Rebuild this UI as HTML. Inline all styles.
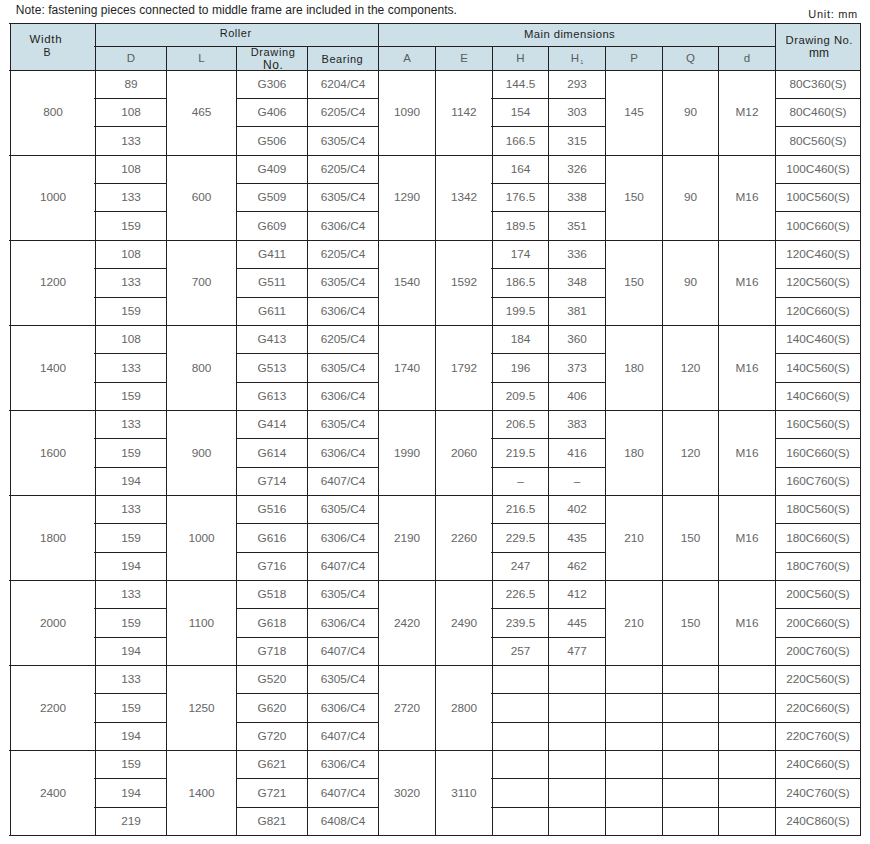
<!DOCTYPE html>
<html><head><meta charset="utf-8"><style>
html,body{margin:0;padding:0;background:#fff;}
body{width:870px;height:844px;position:relative;overflow:hidden;font-family:"Liberation Sans",sans-serif;}
i{position:absolute;background:#231f20;display:block;}
b{position:absolute;display:block;text-align:center;font-weight:normal;font-size:11.8px;line-height:1;color:#666666;white-space:nowrap;}
.h{position:absolute;display:flex;align-items:center;justify-content:center;text-align:center;font-size:11.5px;line-height:13.3px;color:#1e1e1e;white-space:nowrap;}
.s{position:absolute;display:flex;align-items:center;justify-content:center;font-size:11.5px;line-height:1;color:#5c5c5c;white-space:nowrap;}
.s sub{font-size:5.5px;vertical-align:baseline;position:relative;top:3.5px;margin-left:1.2px;line-height:0}
.lb{position:absolute;line-height:1;white-space:nowrap;}
.note{position:absolute;left:15.85px;top:4.3px;font-size:12px;line-height:1;letter-spacing:0.053px;color:#1e1e1e;white-space:nowrap;}
.unit{position:absolute;left:808.3px;top:9.2px;font-size:11px;line-height:1;letter-spacing:0.7px;color:#1e1e1e;white-space:nowrap;}
</style></head><body>
<div class="note">Note: fastening pieces connected to middle frame are included in the components.</div>
<div class="unit">Unit: mm</div>
<div style="position:absolute;left:10px;top:23px;width:850px;height:47px;background:#cde0e7"></div>
<i style="left:9px;top:23px;width:852px;height:1px"></i>
<i style="left:94px;top:46px;width:681px;height:1px"></i>
<i style="left:9px;top:70px;width:852px;height:1px"></i>
<i style="left:94px;top:98px;width:73px;height:1px"></i>
<i style="left:236px;top:98px;width:143px;height:1px"></i>
<i style="left:491px;top:98px;width:115px;height:1px"></i>
<i style="left:775px;top:98px;width:86px;height:1px"></i>
<i style="left:94px;top:126px;width:73px;height:1px"></i>
<i style="left:236px;top:126px;width:143px;height:1px"></i>
<i style="left:491px;top:126px;width:115px;height:1px"></i>
<i style="left:775px;top:126px;width:86px;height:1px"></i>
<i style="left:9px;top:155px;width:852px;height:1px"></i>
<i style="left:94px;top:183px;width:73px;height:1px"></i>
<i style="left:236px;top:183px;width:143px;height:1px"></i>
<i style="left:491px;top:183px;width:115px;height:1px"></i>
<i style="left:775px;top:183px;width:86px;height:1px"></i>
<i style="left:94px;top:211px;width:73px;height:1px"></i>
<i style="left:236px;top:211px;width:143px;height:1px"></i>
<i style="left:491px;top:211px;width:115px;height:1px"></i>
<i style="left:775px;top:211px;width:86px;height:1px"></i>
<i style="left:9px;top:240px;width:852px;height:1px"></i>
<i style="left:94px;top:268px;width:73px;height:1px"></i>
<i style="left:236px;top:268px;width:143px;height:1px"></i>
<i style="left:491px;top:268px;width:115px;height:1px"></i>
<i style="left:775px;top:268px;width:86px;height:1px"></i>
<i style="left:94px;top:297px;width:73px;height:1px"></i>
<i style="left:236px;top:297px;width:143px;height:1px"></i>
<i style="left:491px;top:297px;width:115px;height:1px"></i>
<i style="left:775px;top:297px;width:86px;height:1px"></i>
<i style="left:9px;top:325px;width:852px;height:1px"></i>
<i style="left:94px;top:353px;width:73px;height:1px"></i>
<i style="left:236px;top:353px;width:143px;height:1px"></i>
<i style="left:491px;top:353px;width:115px;height:1px"></i>
<i style="left:775px;top:353px;width:86px;height:1px"></i>
<i style="left:94px;top:382px;width:73px;height:1px"></i>
<i style="left:236px;top:382px;width:143px;height:1px"></i>
<i style="left:491px;top:382px;width:115px;height:1px"></i>
<i style="left:775px;top:382px;width:86px;height:1px"></i>
<i style="left:9px;top:410px;width:852px;height:1px"></i>
<i style="left:94px;top:438px;width:73px;height:1px"></i>
<i style="left:236px;top:438px;width:143px;height:1px"></i>
<i style="left:491px;top:438px;width:115px;height:1px"></i>
<i style="left:775px;top:438px;width:86px;height:1px"></i>
<i style="left:94px;top:467px;width:73px;height:1px"></i>
<i style="left:236px;top:467px;width:143px;height:1px"></i>
<i style="left:491px;top:467px;width:115px;height:1px"></i>
<i style="left:775px;top:467px;width:86px;height:1px"></i>
<i style="left:9px;top:495px;width:852px;height:1px"></i>
<i style="left:94px;top:523px;width:73px;height:1px"></i>
<i style="left:236px;top:523px;width:143px;height:1px"></i>
<i style="left:491px;top:523px;width:115px;height:1px"></i>
<i style="left:775px;top:523px;width:86px;height:1px"></i>
<i style="left:94px;top:552px;width:73px;height:1px"></i>
<i style="left:236px;top:552px;width:143px;height:1px"></i>
<i style="left:491px;top:552px;width:115px;height:1px"></i>
<i style="left:775px;top:552px;width:86px;height:1px"></i>
<i style="left:9px;top:580px;width:852px;height:1px"></i>
<i style="left:94px;top:608px;width:73px;height:1px"></i>
<i style="left:236px;top:608px;width:143px;height:1px"></i>
<i style="left:491px;top:608px;width:115px;height:1px"></i>
<i style="left:775px;top:608px;width:86px;height:1px"></i>
<i style="left:94px;top:637px;width:73px;height:1px"></i>
<i style="left:236px;top:637px;width:143px;height:1px"></i>
<i style="left:491px;top:637px;width:115px;height:1px"></i>
<i style="left:775px;top:637px;width:86px;height:1px"></i>
<i style="left:9px;top:665px;width:852px;height:1px"></i>
<i style="left:94px;top:693px;width:73px;height:1px"></i>
<i style="left:236px;top:693px;width:143px;height:1px"></i>
<i style="left:491px;top:693px;width:285px;height:1px"></i>
<i style="left:775px;top:693px;width:86px;height:1px"></i>
<i style="left:94px;top:722px;width:73px;height:1px"></i>
<i style="left:236px;top:722px;width:143px;height:1px"></i>
<i style="left:491px;top:722px;width:285px;height:1px"></i>
<i style="left:775px;top:722px;width:86px;height:1px"></i>
<i style="left:9px;top:750px;width:852px;height:1px"></i>
<i style="left:94px;top:778px;width:73px;height:1px"></i>
<i style="left:236px;top:778px;width:143px;height:1px"></i>
<i style="left:491px;top:778px;width:285px;height:1px"></i>
<i style="left:775px;top:778px;width:86px;height:1px"></i>
<i style="left:94px;top:807px;width:73px;height:1px"></i>
<i style="left:236px;top:807px;width:143px;height:1px"></i>
<i style="left:491px;top:807px;width:285px;height:1px"></i>
<i style="left:775px;top:807px;width:86px;height:1px"></i>
<i style="left:9px;top:835px;width:852px;height:1px"></i>
<i style="left:10px;top:23px;width:1px;height:813px"></i>
<i style="left:95px;top:23px;width:1px;height:813px"></i>
<i style="left:166px;top:46px;width:1px;height:790px"></i>
<i style="left:236px;top:46px;width:1px;height:790px"></i>
<i style="left:307px;top:46px;width:1px;height:790px"></i>
<i style="left:378px;top:23px;width:1px;height:813px"></i>
<i style="left:435px;top:46px;width:1px;height:790px"></i>
<i style="left:492px;top:46px;width:1px;height:790px"></i>
<i style="left:548px;top:46px;width:1px;height:790px"></i>
<i style="left:605px;top:46px;width:1px;height:790px"></i>
<i style="left:662px;top:46px;width:1px;height:790px"></i>
<i style="left:718px;top:46px;width:1px;height:790px"></i>
<i style="left:775px;top:23px;width:1px;height:813px"></i>
<i style="left:860px;top:23px;width:1px;height:813px"></i>
<b class="t" style="left:11px;top:107.36px;width:84px;">800</b>
<b class="t" style="left:167px;top:107.36px;width:69px;">465</b>
<b class="t" style="left:379px;top:107.36px;width:56px;">1090</b>
<b class="t" style="left:436px;top:107.36px;width:56px;">1142</b>
<b class="t" style="left:606px;top:107.36px;width:56px;">145</b>
<b class="t" style="left:663px;top:107.36px;width:55px;">90</b>
<b class="t" style="left:719px;top:107.36px;width:56px;">M12</b>
<b class="t" style="left:96px;top:79.01px;width:70px;">89</b>
<b class="t" style="left:237px;top:79.01px;width:70px;">G306</b>
<b class="t" style="left:308px;top:79.01px;width:70px;">6204/C4</b>
<b class="t" style="left:493px;top:79.01px;width:55px;">144.5</b>
<b class="t" style="left:549px;top:79.01px;width:56px;">293</b>
<b class="t" style="left:776px;top:79.01px;width:84px;">80C360(S)</b>
<b class="t" style="left:96px;top:107.36px;width:70px;">108</b>
<b class="t" style="left:237px;top:107.36px;width:70px;">G406</b>
<b class="t" style="left:308px;top:107.36px;width:70px;">6205/C4</b>
<b class="t" style="left:493px;top:107.36px;width:55px;">154</b>
<b class="t" style="left:549px;top:107.36px;width:56px;">303</b>
<b class="t" style="left:776px;top:107.36px;width:84px;">80C460(S)</b>
<b class="t" style="left:96px;top:135.71px;width:70px;">133</b>
<b class="t" style="left:237px;top:135.71px;width:70px;">G506</b>
<b class="t" style="left:308px;top:135.71px;width:70px;">6305/C4</b>
<b class="t" style="left:493px;top:135.71px;width:55px;">166.5</b>
<b class="t" style="left:549px;top:135.71px;width:56px;">315</b>
<b class="t" style="left:776px;top:135.71px;width:84px;">80C560(S)</b>
<b class="t" style="left:11px;top:192.41px;width:84px;">1000</b>
<b class="t" style="left:167px;top:192.41px;width:69px;">600</b>
<b class="t" style="left:379px;top:192.41px;width:56px;">1290</b>
<b class="t" style="left:436px;top:192.41px;width:56px;">1342</b>
<b class="t" style="left:606px;top:192.41px;width:56px;">150</b>
<b class="t" style="left:663px;top:192.41px;width:55px;">90</b>
<b class="t" style="left:719px;top:192.41px;width:56px;">M16</b>
<b class="t" style="left:96px;top:164.06px;width:70px;">108</b>
<b class="t" style="left:237px;top:164.06px;width:70px;">G409</b>
<b class="t" style="left:308px;top:164.06px;width:70px;">6205/C4</b>
<b class="t" style="left:493px;top:164.06px;width:55px;">164</b>
<b class="t" style="left:549px;top:164.06px;width:56px;">326</b>
<b class="t" style="left:776px;top:164.06px;width:84px;">100C460(S)</b>
<b class="t" style="left:96px;top:192.41px;width:70px;">133</b>
<b class="t" style="left:237px;top:192.41px;width:70px;">G509</b>
<b class="t" style="left:308px;top:192.41px;width:70px;">6305/C4</b>
<b class="t" style="left:493px;top:192.41px;width:55px;">176.5</b>
<b class="t" style="left:549px;top:192.41px;width:56px;">338</b>
<b class="t" style="left:776px;top:192.41px;width:84px;">100C560(S)</b>
<b class="t" style="left:96px;top:220.76px;width:70px;">159</b>
<b class="t" style="left:237px;top:220.76px;width:70px;">G609</b>
<b class="t" style="left:308px;top:220.76px;width:70px;">6306/C4</b>
<b class="t" style="left:493px;top:220.76px;width:55px;">189.5</b>
<b class="t" style="left:549px;top:220.76px;width:56px;">351</b>
<b class="t" style="left:776px;top:220.76px;width:84px;">100C660(S)</b>
<b class="t" style="left:11px;top:277.46px;width:84px;">1200</b>
<b class="t" style="left:167px;top:277.46px;width:69px;">700</b>
<b class="t" style="left:379px;top:277.46px;width:56px;">1540</b>
<b class="t" style="left:436px;top:277.46px;width:56px;">1592</b>
<b class="t" style="left:606px;top:277.46px;width:56px;">150</b>
<b class="t" style="left:663px;top:277.46px;width:55px;">90</b>
<b class="t" style="left:719px;top:277.46px;width:56px;">M16</b>
<b class="t" style="left:96px;top:249.11px;width:70px;">108</b>
<b class="t" style="left:237px;top:249.11px;width:70px;">G411</b>
<b class="t" style="left:308px;top:249.11px;width:70px;">6205/C4</b>
<b class="t" style="left:493px;top:249.11px;width:55px;">174</b>
<b class="t" style="left:549px;top:249.11px;width:56px;">336</b>
<b class="t" style="left:776px;top:249.11px;width:84px;">120C460(S)</b>
<b class="t" style="left:96px;top:277.46px;width:70px;">133</b>
<b class="t" style="left:237px;top:277.46px;width:70px;">G511</b>
<b class="t" style="left:308px;top:277.46px;width:70px;">6305/C4</b>
<b class="t" style="left:493px;top:277.46px;width:55px;">186.5</b>
<b class="t" style="left:549px;top:277.46px;width:56px;">348</b>
<b class="t" style="left:776px;top:277.46px;width:84px;">120C560(S)</b>
<b class="t" style="left:96px;top:305.81px;width:70px;">159</b>
<b class="t" style="left:237px;top:305.81px;width:70px;">G611</b>
<b class="t" style="left:308px;top:305.81px;width:70px;">6306/C4</b>
<b class="t" style="left:493px;top:305.81px;width:55px;">199.5</b>
<b class="t" style="left:549px;top:305.81px;width:56px;">381</b>
<b class="t" style="left:776px;top:305.81px;width:84px;">120C660(S)</b>
<b class="t" style="left:11px;top:362.51px;width:84px;">1400</b>
<b class="t" style="left:167px;top:362.51px;width:69px;">800</b>
<b class="t" style="left:379px;top:362.51px;width:56px;">1740</b>
<b class="t" style="left:436px;top:362.51px;width:56px;">1792</b>
<b class="t" style="left:606px;top:362.51px;width:56px;">180</b>
<b class="t" style="left:663px;top:362.51px;width:55px;">120</b>
<b class="t" style="left:719px;top:362.51px;width:56px;">M16</b>
<b class="t" style="left:96px;top:334.16px;width:70px;">108</b>
<b class="t" style="left:237px;top:334.16px;width:70px;">G413</b>
<b class="t" style="left:308px;top:334.16px;width:70px;">6205/C4</b>
<b class="t" style="left:493px;top:334.16px;width:55px;">184</b>
<b class="t" style="left:549px;top:334.16px;width:56px;">360</b>
<b class="t" style="left:776px;top:334.16px;width:84px;">140C460(S)</b>
<b class="t" style="left:96px;top:362.51px;width:70px;">133</b>
<b class="t" style="left:237px;top:362.51px;width:70px;">G513</b>
<b class="t" style="left:308px;top:362.51px;width:70px;">6305/C4</b>
<b class="t" style="left:493px;top:362.51px;width:55px;">196</b>
<b class="t" style="left:549px;top:362.51px;width:56px;">373</b>
<b class="t" style="left:776px;top:362.51px;width:84px;">140C560(S)</b>
<b class="t" style="left:96px;top:390.86px;width:70px;">159</b>
<b class="t" style="left:237px;top:390.86px;width:70px;">G613</b>
<b class="t" style="left:308px;top:390.86px;width:70px;">6306/C4</b>
<b class="t" style="left:493px;top:390.86px;width:55px;">209.5</b>
<b class="t" style="left:549px;top:390.86px;width:56px;">406</b>
<b class="t" style="left:776px;top:390.86px;width:84px;">140C660(S)</b>
<b class="t" style="left:11px;top:447.56px;width:84px;">1600</b>
<b class="t" style="left:167px;top:447.56px;width:69px;">900</b>
<b class="t" style="left:379px;top:447.56px;width:56px;">1990</b>
<b class="t" style="left:436px;top:447.56px;width:56px;">2060</b>
<b class="t" style="left:606px;top:447.56px;width:56px;">180</b>
<b class="t" style="left:663px;top:447.56px;width:55px;">120</b>
<b class="t" style="left:719px;top:447.56px;width:56px;">M16</b>
<b class="t" style="left:96px;top:419.21px;width:70px;">133</b>
<b class="t" style="left:237px;top:419.21px;width:70px;">G414</b>
<b class="t" style="left:308px;top:419.21px;width:70px;">6305/C4</b>
<b class="t" style="left:493px;top:419.21px;width:55px;">206.5</b>
<b class="t" style="left:549px;top:419.21px;width:56px;">383</b>
<b class="t" style="left:776px;top:419.21px;width:84px;">160C560(S)</b>
<b class="t" style="left:96px;top:447.56px;width:70px;">159</b>
<b class="t" style="left:237px;top:447.56px;width:70px;">G614</b>
<b class="t" style="left:308px;top:447.56px;width:70px;">6306/C4</b>
<b class="t" style="left:493px;top:447.56px;width:55px;">219.5</b>
<b class="t" style="left:549px;top:447.56px;width:56px;">416</b>
<b class="t" style="left:776px;top:447.56px;width:84px;">160C660(S)</b>
<b class="t" style="left:96px;top:475.91px;width:70px;">194</b>
<b class="t" style="left:237px;top:475.91px;width:70px;">G714</b>
<b class="t" style="left:308px;top:475.91px;width:70px;">6407/C4</b>
<b class="t" style="left:493px;top:475.91px;width:55px;">–</b>
<b class="t" style="left:549px;top:475.91px;width:56px;">–</b>
<b class="t" style="left:776px;top:475.91px;width:84px;">160C760(S)</b>
<b class="t" style="left:11px;top:532.61px;width:84px;">1800</b>
<b class="t" style="left:167px;top:532.61px;width:69px;">1000</b>
<b class="t" style="left:379px;top:532.61px;width:56px;">2190</b>
<b class="t" style="left:436px;top:532.61px;width:56px;">2260</b>
<b class="t" style="left:606px;top:532.61px;width:56px;">210</b>
<b class="t" style="left:663px;top:532.61px;width:55px;">150</b>
<b class="t" style="left:719px;top:532.61px;width:56px;">M16</b>
<b class="t" style="left:96px;top:504.26px;width:70px;">133</b>
<b class="t" style="left:237px;top:504.26px;width:70px;">G516</b>
<b class="t" style="left:308px;top:504.26px;width:70px;">6305/C4</b>
<b class="t" style="left:493px;top:504.26px;width:55px;">216.5</b>
<b class="t" style="left:549px;top:504.26px;width:56px;">402</b>
<b class="t" style="left:776px;top:504.26px;width:84px;">180C560(S)</b>
<b class="t" style="left:96px;top:532.61px;width:70px;">159</b>
<b class="t" style="left:237px;top:532.61px;width:70px;">G616</b>
<b class="t" style="left:308px;top:532.61px;width:70px;">6306/C4</b>
<b class="t" style="left:493px;top:532.61px;width:55px;">229.5</b>
<b class="t" style="left:549px;top:532.61px;width:56px;">435</b>
<b class="t" style="left:776px;top:532.61px;width:84px;">180C660(S)</b>
<b class="t" style="left:96px;top:560.96px;width:70px;">194</b>
<b class="t" style="left:237px;top:560.96px;width:70px;">G716</b>
<b class="t" style="left:308px;top:560.96px;width:70px;">6407/C4</b>
<b class="t" style="left:493px;top:560.96px;width:55px;">247</b>
<b class="t" style="left:549px;top:560.96px;width:56px;">462</b>
<b class="t" style="left:776px;top:560.96px;width:84px;">180C760(S)</b>
<b class="t" style="left:11px;top:617.66px;width:84px;">2000</b>
<b class="t" style="left:167px;top:617.66px;width:69px;">1100</b>
<b class="t" style="left:379px;top:617.66px;width:56px;">2420</b>
<b class="t" style="left:436px;top:617.66px;width:56px;">2490</b>
<b class="t" style="left:606px;top:617.66px;width:56px;">210</b>
<b class="t" style="left:663px;top:617.66px;width:55px;">150</b>
<b class="t" style="left:719px;top:617.66px;width:56px;">M16</b>
<b class="t" style="left:96px;top:589.31px;width:70px;">133</b>
<b class="t" style="left:237px;top:589.31px;width:70px;">G518</b>
<b class="t" style="left:308px;top:589.31px;width:70px;">6305/C4</b>
<b class="t" style="left:493px;top:589.31px;width:55px;">226.5</b>
<b class="t" style="left:549px;top:589.31px;width:56px;">412</b>
<b class="t" style="left:776px;top:589.31px;width:84px;">200C560(S)</b>
<b class="t" style="left:96px;top:617.66px;width:70px;">159</b>
<b class="t" style="left:237px;top:617.66px;width:70px;">G618</b>
<b class="t" style="left:308px;top:617.66px;width:70px;">6306/C4</b>
<b class="t" style="left:493px;top:617.66px;width:55px;">239.5</b>
<b class="t" style="left:549px;top:617.66px;width:56px;">445</b>
<b class="t" style="left:776px;top:617.66px;width:84px;">200C660(S)</b>
<b class="t" style="left:96px;top:646.01px;width:70px;">194</b>
<b class="t" style="left:237px;top:646.01px;width:70px;">G718</b>
<b class="t" style="left:308px;top:646.01px;width:70px;">6407/C4</b>
<b class="t" style="left:493px;top:646.01px;width:55px;">257</b>
<b class="t" style="left:549px;top:646.01px;width:56px;">477</b>
<b class="t" style="left:776px;top:646.01px;width:84px;">200C760(S)</b>
<b class="t" style="left:11px;top:702.71px;width:84px;">2200</b>
<b class="t" style="left:167px;top:702.71px;width:69px;">1250</b>
<b class="t" style="left:379px;top:702.71px;width:56px;">2720</b>
<b class="t" style="left:436px;top:702.71px;width:56px;">2800</b>
<b class="t" style="left:96px;top:674.36px;width:70px;">133</b>
<b class="t" style="left:237px;top:674.36px;width:70px;">G520</b>
<b class="t" style="left:308px;top:674.36px;width:70px;">6305/C4</b>
<b class="t" style="left:776px;top:674.36px;width:84px;">220C560(S)</b>
<b class="t" style="left:96px;top:702.71px;width:70px;">159</b>
<b class="t" style="left:237px;top:702.71px;width:70px;">G620</b>
<b class="t" style="left:308px;top:702.71px;width:70px;">6306/C4</b>
<b class="t" style="left:776px;top:702.71px;width:84px;">220C660(S)</b>
<b class="t" style="left:96px;top:731.06px;width:70px;">194</b>
<b class="t" style="left:237px;top:731.06px;width:70px;">G720</b>
<b class="t" style="left:308px;top:731.06px;width:70px;">6407/C4</b>
<b class="t" style="left:776px;top:731.06px;width:84px;">220C760(S)</b>
<b class="t" style="left:11px;top:787.76px;width:84px;">2400</b>
<b class="t" style="left:167px;top:787.76px;width:69px;">1400</b>
<b class="t" style="left:379px;top:787.76px;width:56px;">3020</b>
<b class="t" style="left:436px;top:787.76px;width:56px;">3110</b>
<b class="t" style="left:96px;top:759.41px;width:70px;">159</b>
<b class="t" style="left:237px;top:759.41px;width:70px;">G621</b>
<b class="t" style="left:308px;top:759.41px;width:70px;">6306/C4</b>
<b class="t" style="left:776px;top:759.41px;width:84px;">240C660(S)</b>
<b class="t" style="left:96px;top:787.76px;width:70px;">194</b>
<b class="t" style="left:237px;top:787.76px;width:70px;">G721</b>
<b class="t" style="left:308px;top:787.76px;width:70px;">6407/C4</b>
<b class="t" style="left:776px;top:787.76px;width:84px;">240C760(S)</b>
<b class="t" style="left:96px;top:816.11px;width:70px;">219</b>
<b class="t" style="left:237px;top:816.11px;width:70px;">G821</b>
<b class="t" style="left:308px;top:816.11px;width:70px;">6408/C4</b>
<b class="t" style="left:776px;top:816.11px;width:84px;">240C860(S)</b>
<span class="lb" style="left:29.60px;top:33.97px;font-size:11.5px;letter-spacing:0.65px;color:#1e1e1e">Width</span>
<span class="lb" style="left:43.60px;top:47.11px;font-size:10.5px;letter-spacing:0px;color:#1e1e1e">B</span>
<span class="lb" style="left:219.70px;top:28.09px;font-size:11px;letter-spacing:0.54px;color:#1e1e1e">Roller</span>
<span class="lb" style="left:523.90px;top:29.03px;font-size:11.3px;letter-spacing:0.436px;color:#1e1e1e">Main dimensions</span>
<span class="lb" style="left:785.60px;top:35.33px;font-size:11.3px;letter-spacing:0.47px;color:#1e1e1e">Drawing No.</span>
<span class="lb" style="left:808.90px;top:47.34px;font-size:12px;letter-spacing:0px;color:#1e1e1e">mm</span>
<span class="lb" style="left:250.70px;top:47.49px;font-size:11px;letter-spacing:0.633px;color:#1e1e1e">Drawing</span>
<span class="lb" style="left:262.90px;top:59.34px;font-size:12px;letter-spacing:0.6px;color:#1e1e1e">No.</span>
<span class="lb" style="left:321.60px;top:54.19px;font-size:11px;letter-spacing:0.533px;color:#1e1e1e">Bearing</span>
<span class="s" style="left:96px;top:47px;width:70px;height:23px;">D</span>
<span class="s" style="left:167px;top:47px;width:69px;height:23px;">L</span>
<span class="s" style="left:379px;top:47px;width:56px;height:23px;">A</span>
<span class="s" style="left:436px;top:47px;width:56px;height:23px;">E</span>
<span class="s" style="left:493px;top:47px;width:55px;height:23px;">H</span>
<span class="s" style="left:549px;top:47px;width:56px;height:23px;">H<sub>1</sub></span>
<span class="s" style="left:606px;top:47px;width:56px;height:23px;">P</span>
<span class="s" style="left:663px;top:47px;width:55px;height:23px;">Q</span>
<span class="s" style="left:719px;top:47px;width:56px;height:23px;">d</span>

</body></html>
